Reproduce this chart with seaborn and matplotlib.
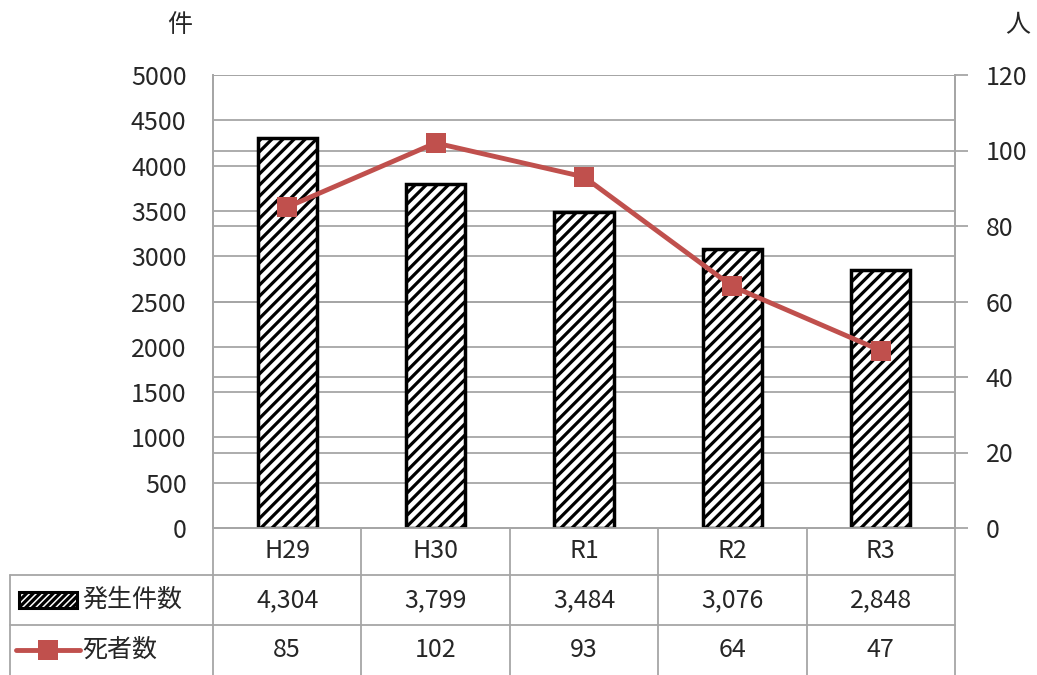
import numpy as np
import matplotlib
matplotlib.use("Agg")
import matplotlib.pyplot as plt
import seaborn as sns
from matplotlib.lines import Line2D
from matplotlib.patches import Rectangle

# ---------------------------------------------------------------------------
# data
# ---------------------------------------------------------------------------
years = ["H29", "H30", "R1", "R2", "R3"]
cases = [4304, 3799, 3484, 3076, 2848]      # 発生件数 (件)
deaths = [85, 102, 93, 64, 47]              # 死者数 (人)
left_ticks = [0, 500, 1000, 1500, 2000, 2500, 3000, 3500, 4000, 4500, 5000]
right_ticks = [0, 20, 40, 60, 80, 100, 120]
row_labels = ["発生件数", "死者数"]
LEFT_MAX, RIGHT_MAX = 5000, 120

# ---------------------------------------------------------------------------
# style
# ---------------------------------------------------------------------------
LINE_COLOR = "#C0504D"
GRID_COLOR = "#A6A6A6"
TEXT_COLOR = "#262626"
FS = 18

sns.set_theme(style="white")
plt.rcParams["font.family"] = ["Noto Sans CJK JP", "DejaVu Sans"]
plt.rcParams["hatch.linewidth"] = 2.3
plt.rcParams["hatch.color"] = "black"

W, H = 1037, 675
fig = plt.figure(figsize=(W / 100, H / 100), dpi=100)

# plot area in pixels
x0, x1 = 213, 955
y_top, y_bot = 75, 528


def fx(px):
    return px / W


def fy(py):
    return 1 - py / H


ax = fig.add_axes([fx(x0), fy(y_bot), fx(x1) - fx(x0), fy(y_top) - fy(y_bot)])

sns.barplot(x=years, y=cases, ax=ax, width=0.4, color="white",
            edgecolor="black", linewidth=2.5, hatch="///", zorder=3)
ax.set_ylim(0, LEFT_MAX)
ax.set_xlim(-0.5, len(years) - 0.5)
ax.set_yticks(left_ticks)
ax.set_yticklabels([str(t) for t in left_ticks], fontsize=FS, color=TEXT_COLOR)
ax.tick_params(axis="y", length=0, pad=19)
ax.set_xticks([])
ax.set_xlabel("")
ax.set_ylabel("")
# gridlines for both axes, drawn behind the bars
for t in left_ticks:
    ax.axhline(t, color=GRID_COLOR, lw=1.3, zorder=0)
for t in right_ticks:
    ax.axhline(t * LEFT_MAX / RIGHT_MAX, color=GRID_COLOR, lw=1.3, zorder=0)

ax2 = ax.twinx()
sns.lineplot(x=np.arange(len(years)), y=deaths, ax=ax2, color=LINE_COLOR,
             lw=3.5, marker="s", markersize=15, markeredgewidth=0, zorder=5)
ax2.set_ylim(0, RIGHT_MAX)
ax2.set_yticks(right_ticks)
ax2.set_yticklabels([str(t) for t in right_ticks], fontsize=FS, color=TEXT_COLOR)
ax2.tick_params(axis="y", length=9, width=1.3, color=GRID_COLOR, pad=13,
                direction="out")
ax2.set_xlim(-0.5, len(years) - 0.5)

for a in (ax, ax2):
    a.spines["top"].set_visible(False)
    for s in ("left", "right", "bottom"):
        a.spines[s].set_color(GRID_COLOR)
        a.spines[s].set_linewidth(1.3)
ax.set_zorder(1)
ax2.set_zorder(2)
ax2.patch.set_visible(False)

# unit labels
fig.text(fx(180), fy(25), "件", fontsize=FS, color=TEXT_COLOR,
         ha="center", va="center")
fig.text(fx(1018), fy(25), "人", fontsize=FS, color=TEXT_COLOR,
         ha="center", va="center")

# ---------------------------------------------------------------------------
# data table below the axes
# ---------------------------------------------------------------------------
tbl_left = 10
rows_y = [528, 575, 625, 675]
col_w = (x1 - x0) / len(years)


def hline(xa, xb, y):
    fig.add_artist(Line2D([fx(xa), fx(xb)], [fy(y), fy(y)],
                          color=GRID_COLOR, lw=1.3))


def vline(x, ya, yb):
    fig.add_artist(Line2D([fx(x), fx(x)], [fy(ya), fy(yb)],
                          color=GRID_COLOR, lw=1.3))


hline(tbl_left, x1, rows_y[1])
hline(tbl_left, x1, rows_y[2])
vline(tbl_left, rows_y[1], rows_y[3])
for k in range(len(years) + 1):
    vline(x0 + k * col_w, rows_y[0], rows_y[3])

r0c = (rows_y[0] + rows_y[1]) / 2
r1c = (rows_y[1] + rows_y[2]) / 2
r2c = (rows_y[2] + rows_y[3]) / 2
for i, yr in enumerate(years):
    cx = x0 + (i + 0.5) * col_w
    fig.text(fx(cx), fy(r0c), yr, fontsize=FS, color=TEXT_COLOR,
             ha="center", va="center")
    fig.text(fx(cx), fy(r1c), f"{cases[i]:,}", fontsize=FS, color=TEXT_COLOR,
             ha="center", va="center")
    fig.text(fx(cx), fy(r2c), f"{deaths[i]:,}", fontsize=FS, color=TEXT_COLOR,
             ha="center", va="center")

# legend keys in the row labels
fig.add_artist(Rectangle((fx(19), fy(r1c + 8)), fx(77) - fx(19),
                         fy(r1c - 8) - fy(r1c + 8), facecolor="white",
                         edgecolor="black", lw=2.2, hatch="/////",
                         transform=fig.transFigure))
fig.add_artist(Line2D([fx(16), fx(80)], [fy(r2c), fy(r2c)],
                      color=LINE_COLOR, lw=3.5))
fig.add_artist(Line2D([fx(48)], [fy(r2c)], color=LINE_COLOR, marker="s",
                      markersize=15, markeredgewidth=0, lw=0))
fig.text(fx(82), fy(r1c), row_labels[0], fontsize=FS, color=TEXT_COLOR,
         ha="left", va="center")
fig.text(fx(82), fy(r2c), row_labels[1], fontsize=FS, color=TEXT_COLOR,
         ha="left", va="center")

fig.savefig("out.png", dpi=100)
